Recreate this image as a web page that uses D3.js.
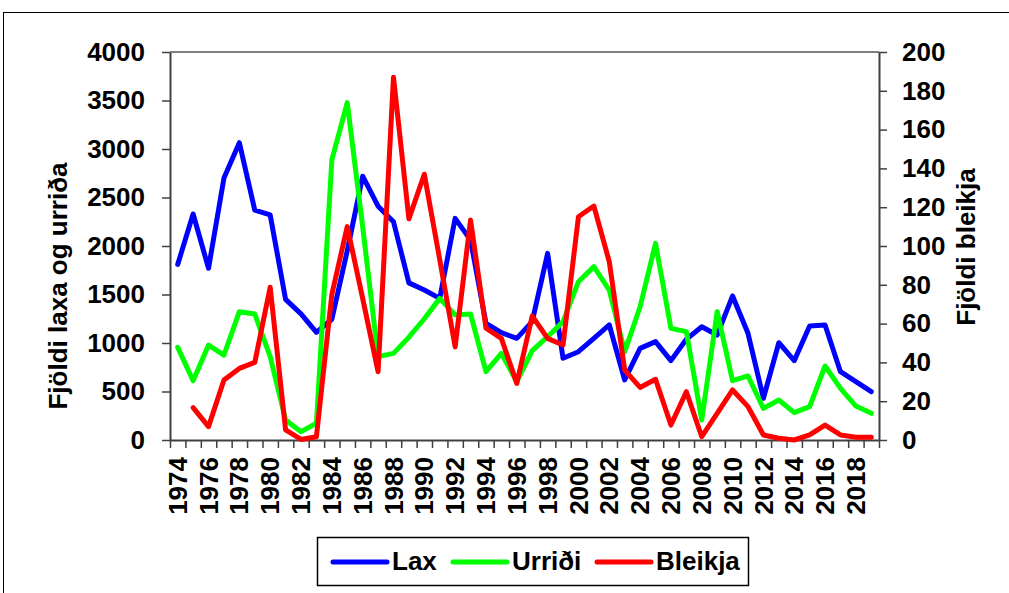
<!DOCTYPE html>
<html>
<head>
<meta charset="utf-8">
<script src="https://cdn.jsdelivr.net/npm/d3@7"></script>
<style>
  body { margin: 0; background: #fff; }
  text { font-family: "Liberation Sans", Arial, sans-serif; font-weight: bold; fill: #000; }
</style>
</head>
<body>
<div id="chart"></div>
<script>
// Data
var years = d3.range(1974, 2020);
var lax = [1810, 2330, 1770, 2700, 3065, 2370, 2320, 1450, 1300, 1110,
           1245, 1950, 2720, 2410, 2250, 1620, 1546, 1460, 2285, 2060,
           1203, 1106, 1048, 1220, 1924, 842, 910, 1048, 1186, 619,
           945, 1014, 818, 1038, 1168, 1082, 1485, 1100, 430, 1003,
           818, 1175, 1186, 704, 601, 498];
var urridi = [955, 611, 979, 876, 1323, 1299, 860, 206, 86, 172,
              2887, 3478, 2200, 860, 893, 1060, 1250, 1460, 1289, 1299,
              704, 893, 601, 921, 1065, 1220, 1632, 1787, 1546, 910,
              1374, 2027, 1151, 1117, 206, 1323, 611, 660, 326, 412,
              282, 344, 763, 533, 350, 275];
var bleikja = [null, 16.7, 6.9, 30.9, 36.9, 40, 78.7, 5.2, 0.3, 1.7,
               75, 110, 73, 35.2, 187, 114, 137, 93, 48, 113.4,
               57.6, 52.4, 29.2, 63.9, 52.4, 49, 115.1, 120.6, 91.9, 36,
               27.1, 31.3, 7.7, 24.9, 1.7, 13.7, 25.8, 17.2, 2.6, 0.9,
               0, 2.6, 7.7, 2.6, 1.4, 1.4];
var leftTicks = d3.range(0, 4001, 500);
var rightTicks = d3.range(0, 201, 20);
var labelYears = years.filter(function(d){ return d % 2 === 0; });

var W = 1009, H = 593;
var plot = {left: 170, right: 879, top: 52, bottom: 440};

var svg = d3.select("#chart").append("svg")
  .attr("width", W).attr("height", H);

// outer frame
svg.append("rect")
  .attr("x", 3.5).attr("y", 12.5)
  .attr("width", 1100).attr("height", 700)
  .attr("fill", "none").attr("stroke", "#000").attr("stroke-width", 1);

var x = d3.scaleBand().domain(years).range([plot.left, plot.right]);
var xEdge = d3.scaleLinear().domain([0, years.length]).range([plot.left, plot.right]);
var yL = d3.scaleLinear().domain([0, 4000]).range([plot.bottom, plot.top]);
var yR = d3.scaleLinear().domain([0, 200]).range([plot.bottom, plot.top]);

// top border of plot
svg.append("line")
  .attr("x1", plot.left).attr("x2", plot.right)
  .attr("y1", plot.top).attr("y2", plot.top)
  .attr("stroke", "#808080").attr("stroke-width", 2);

// axes
var gL = svg.append("g").attr("transform", "translate(" + plot.left + ",0)")
  .call(d3.axisLeft(yL).tickValues(leftTicks).tickFormat(d3.format("d"))
    .tickSize(8).tickPadding(17).tickSizeOuter(0));
var gR = svg.append("g").attr("transform", "translate(" + plot.right + ",0)")
  .call(d3.axisRight(yR).tickValues(rightTicks).tickFormat(d3.format("d"))
    .tickSize(8).tickPadding(15).tickSizeOuter(0));
var gE = svg.append("g").attr("transform", "translate(0," + plot.bottom + ")")
  .call(d3.axisBottom(xEdge).tickValues(d3.range(years.length + 1)).tickFormat("").tickSize(8).tickSizeOuter(0));
var gX = svg.append("g").attr("transform", "translate(0," + plot.bottom + ")")
  .call(d3.axisBottom(x).tickValues(labelYears).tickSize(0));
gX.select(".domain").remove();
gX.selectAll("text")
  .attr("y", 0).attr("x", -17).attr("dy", "0.35em")
  .attr("transform", "rotate(-90)")
  .style("text-anchor", "end");

[gL, gR, gE].forEach(function(g){
  g.selectAll(".domain").attr("stroke", "#404040").attr("stroke-width", 2);
  g.selectAll(".tick line").attr("stroke", "#404040").attr("stroke-width", 1.5);
});
svg.selectAll(".tick text").style("font-size", "26px").style("font-family", "'Liberation Sans', Arial, sans-serif").style("font-weight", "bold");

// axis titles
svg.append("text")
  .attr("transform", "translate(67,286) rotate(-90)")
  .attr("text-anchor", "middle").style("font-size", "26px")
  .text("Fjöldi laxa og urriða");
svg.append("text")
  .attr("transform", "translate(975,247) rotate(-90)")
  .attr("text-anchor", "middle").style("font-size", "26px")
  .text("Fjöldi bleikja");

// lines
function lineFor(scale) {
  return d3.line()
    .defined(function(d){ return d != null; })
    .x(function(d, i){ return x(years[i]) + x.bandwidth() / 2; })
    .y(function(d){ return scale(d); });
}
var series = [
  {name: "Lax", values: lax, color: "#0000ff", scale: yL},
  {name: "Urriði", values: urridi, color: "#00ff00", scale: yL},
  {name: "Bleikja", values: bleikja, color: "#ff0000", scale: yR}
];
series.forEach(function(s){
  svg.append("path")
    .datum(s.values)
    .attr("d", lineFor(s.scale))
    .attr("fill", "none")
    .attr("stroke", s.color)
    .attr("stroke-width", 5)
    .attr("stroke-linejoin", "round")
    .attr("stroke-linecap", "round");
});

// legend
var leg = svg.append("g");
leg.append("rect")
  .attr("x", 317.5).attr("y", 537.5).attr("width", 431).attr("height", 48)
  .attr("fill", "#fff").attr("stroke", "#000").attr("stroke-width", 1.5);
var legX = [333, 453, 597];
series.forEach(function(s, i){
  leg.append("line")
    .attr("x1", legX[i]).attr("x2", legX[i] + 54)
    .attr("y1", 562).attr("y2", 562)
    .attr("stroke", s.color).attr("stroke-width", 5).attr("stroke-linecap", "round");
  leg.append("text")
    .attr("x", legX[i] + 59).attr("y", 570)
    .style("font-size", "26px")
    .text(s.name);
});
</script>
</body>
</html>
